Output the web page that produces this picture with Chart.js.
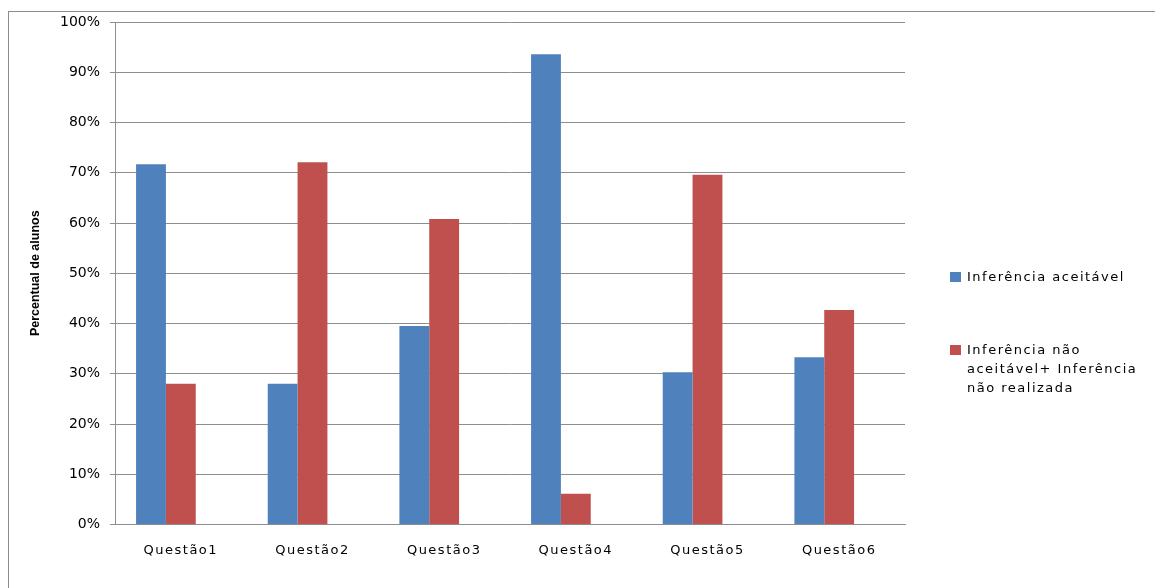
<!DOCTYPE html>
<html>
<head>
<meta charset="utf-8">
<script src="https://cdn.jsdelivr.net/npm/chart.js@4/dist/chart.umd.min.js"></script>
<style>
  html, body { margin: 0; padding: 0; background: #fff; overflow: hidden; }
  #frame { position: absolute; left: 8px; top: 11px; width: 1200px; height: 640px; border: 1px solid #8c8c8c; }
  #wrap { position: absolute; left: 0; top: 0; width: 1155px; height: 588px; }
  #legend { position: absolute; left: 950px; top: 0; font: 13px "DejaVu Sans", sans-serif; letter-spacing: 1.5px; color: #000; }
  .item { position: absolute; left: 0; display: flex; white-space: nowrap; line-height: 19px; }
  .box { width: 11px; height: 10px; margin-top: 5px; margin-right: 6px; flex: none; }
</style>
</head>
<body>
<div id="frame"></div>
<div id="wrap"><canvas id="chart" width="1155" height="588"></canvas></div>
<div id="legend">
  <div class="item" style="top:267px"><span class="box" style="background:#4F81BD"></span><span>Inferência aceitável</span></div>
  <div class="item" style="top:340px"><span class="box" style="background:#C0504D"></span><span>Inferência não<br>aceitável+ Inferência<br>não realizada</span></div>
</div>
<script>
// chart data
const categories = ['Questão1', 'Questão2', 'Questão3', 'Questão4', 'Questão5', 'Questão6'];
const aceitavel = [71.7, 28.0, 39.5, 93.6, 30.3, 33.3];
const naoAceitavel = [28.0, 72.1, 60.8, 6.1, 69.6, 42.7];
const emptySeries = [null, null, null, null, null, null]; // empty third slot, as in the original sheet
const yTicks = [0, 10, 20, 30, 40, 50, 60, 70, 80, 90, 100];

const gridColor = '#8e8e8e';

// y axis is drawn before the bars with normal spacing,
// the x labels (ticks.z: 1) after them with the wide spacing of the original
const spacingPlugin = {
  id: 'spacing',
  beforeDraw(chart) { chart.ctx.letterSpacing = '0px'; },
  afterDatasetsDraw(chart) { chart.ctx.letterSpacing = '1.5px'; },
  afterDraw(chart) { chart.ctx.letterSpacing = '0px'; }
};

const ctx = document.getElementById('chart');

new Chart(ctx, {
  type: 'bar',
  data: {
    labels: categories,
    datasets: [
      { label: 'Inferência aceitável', data: aceitavel, backgroundColor: '#4F81BD' },
      { label: 'Inferência não aceitável+ Inferência não realizada', data: naoAceitavel, backgroundColor: '#C0504D' },
      { label: '', data: emptySeries, backgroundColor: 'rgba(0,0,0,0)' }
    ]
  },
  plugins: [spacingPlugin],
  options: {
    responsive: false,
    animation: false,
    categoryPercentage: 0.68,
    barPercentage: 1,
    layout: { padding: { left: 0, top: 22, right: 250, bottom: 0 } },
    plugins: {
      legend: { display: false },
      tooltip: { enabled: false }
    },
    scales: {
      x: {
        grid: { display: false, drawTicks: false },
        border: { display: true, color: gridColor, z: 1 },
        ticks: { z: 1, color: '#000', padding: 18, font: { family: 'DejaVu Sans', size: 13 } },
        afterFit(scale) { scale.height = 63.5; }
      },
      y: {
        min: 0,
        max: 100,
        afterBuildTicks(scale) { scale.ticks = yTicks.map(v => ({ value: v })); },
        grid: { color: gridColor, tickLength: 5 },
        border: { color: gridColor },
        ticks: {
          color: '#000',
          padding: 10,
          font: { family: 'DejaVu Sans', size: 14 },
          callback: v => v + '%'
        },
        title: {
          display: true,
          text: 'Percentual de alunos',
          color: '#000',
          font: { family: 'Liberation Sans', size: 12.5, weight: 'bold' },
          padding: { top: 28, bottom: 0 }
        },
        afterFit(scale) { scale.width = 115; }
      }
    }
  }
});
</script>
</body>
</html>
